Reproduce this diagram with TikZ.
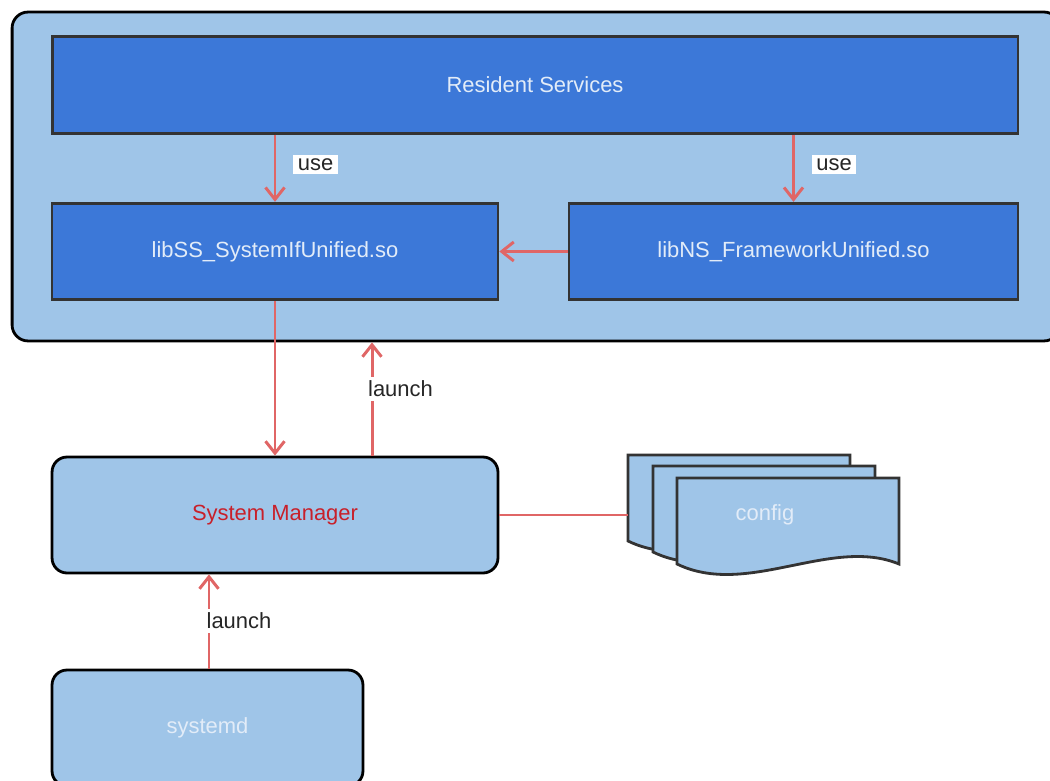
\documentclass[tikz,border=0pt]{standalone}
\usepackage{fontspec}
\setmainfont{Liberation Sans}
\usepackage{xcolor}
\usetikzlibrary{arrows.meta,positioning,calc}

\definecolor{paleblue}{HTML}{9FC5E8}
\definecolor{libblue}{HTML}{3C78D8}
\definecolor{linkred}{HTML}{E06666}
\definecolor{boxedge}{HTML}{333333}
\definecolor{softtext}{HTML}{E2ECF8}
\definecolor{smred}{HTML}{C8202A}

\begin{document}
\begin{tikzpicture}[x=0.02cm, y=-0.02cm, font=\fontsize{12.5}{15}\selectfont,
    area/.style={draw=black, line width=1.6pt, fill=paleblue, rounded corners=0.32cm, minimum width=20.96cm, minimum height=6.58cm},
    lib/.style={draw=boxedge, line width=1.6pt, fill=libblue, text=softtext, minimum height=1.93cm},
    proc/.style={draw=black, line width=1.6pt, fill=paleblue, rounded corners=0.3cm, text=softtext},
    flow/.style={draw=linkred, line width=1.7pt, -{Straight Barb[length=0.24cm,width=0.38cm]}},
    link/.style={draw=linkred, line width=1.7pt},
    tag/.style={fill=white, text=black!85, inner xsep=2.5pt, inner ysep=2pt},
    docpage/.style={draw=boxedge, line width=1.6pt, fill=paleblue, line join=miter}]
        \useasboundingbox (0,0) rectangle (1050,780);
        \clip (0,0) rectangle (1050,780);

        % Resident area
        \node[area] (area) at (536,176.5) {};
        \node[lib, minimum width=19.32cm] (resident) at (535,85) {Resident Services};
        \node[lib, minimum width=8.92cm] (libss) at (275,251.5) {libSS\_SystemIfUnified.so};
        \node[lib, minimum width=8.98cm] (libns) at (793.5,251.5) {libNS\_FrameworkUnified.so};

        \draw[flow] (resident.south -| libss) -- (libss.north) node[tag, midway, right=0.34cm, yshift=0.08cm] (use1) {use};
        \draw[flow] (resident.south -| libns) -- (libns.north) node[tag, midway, right=0.34cm, yshift=0.08cm] (use2) {use};
        \draw[flow] (libns.west) -- (libss.east);

        % System Manager
        \node[proc, minimum width=8.92cm, minimum height=2.32cm] (sysmgr) at (275,515) {\textcolor{smred}{System Manager}};
        \coordinate (lx) at (372,0);
        \draw[flow] (libss.south) -- (sysmgr.north);
        \draw[flow] (sysmgr.north -| lx) -- (area.south -| lx);
        \node[tag] (launch1) at (400.5,389) {launch};

        % config files
        \foreach \cx/\cy in {628/455, 653/466, 677/478} {
            \draw[docpage] (\cx,\cy) -- ++(222,0) -- ++(0,86)
                .. controls ++(-68,-28) and ++(70,34) .. (\cx,\cy+86) -- cycle;
        }
        \node[text=softtext] (config) at (765,515) {config};
        \coordinate (cfgin) at (628,515);
        \draw[link] (sysmgr.east) -- (cfgin);

        % systemd
        \node[proc, minimum width=6.22cm, minimum height=2.32cm] (systemd) at (207.5,728) {systemd};
        \coordinate (sx) at (209,0);
        \draw[flow] (systemd.north -| sx) -- (sysmgr.south -| sx);
        \node[tag] (launch2) at (239,621) {launch};
    \end{tikzpicture}
\end{document}
